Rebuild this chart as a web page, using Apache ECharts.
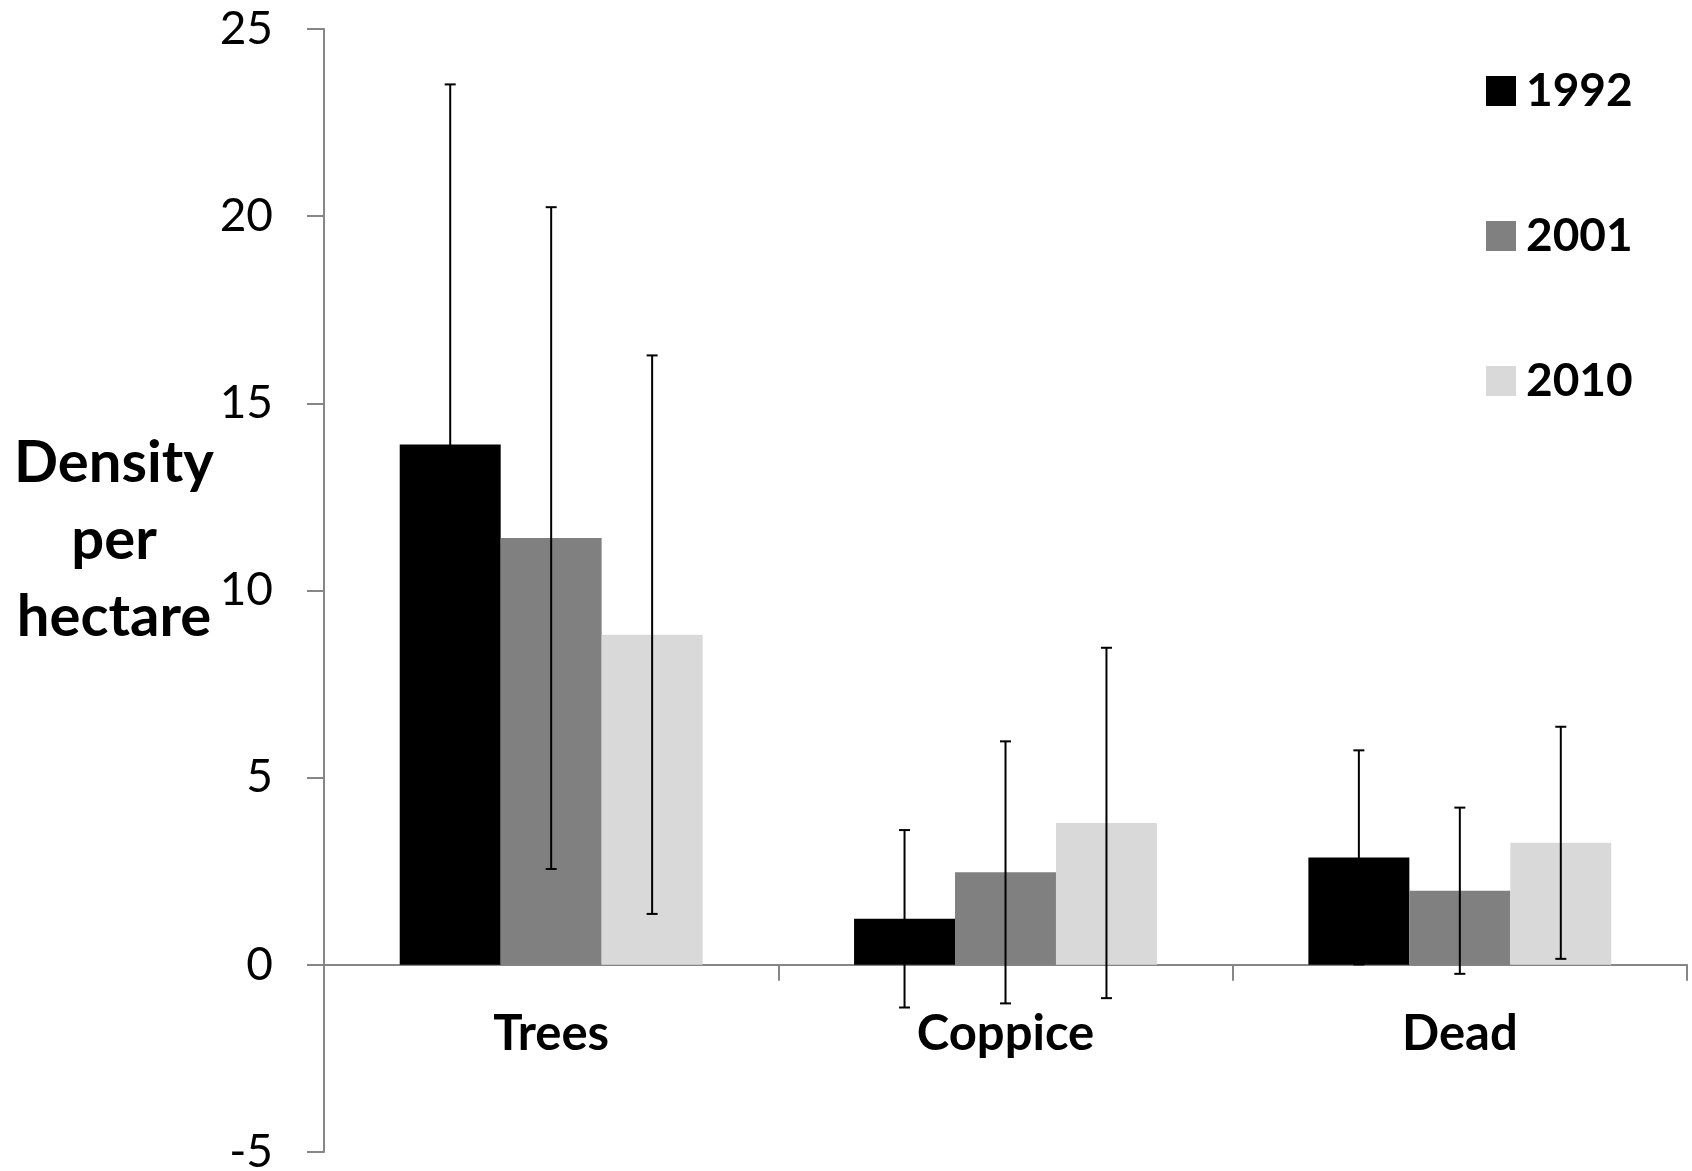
<!DOCTYPE html>
<html>
<head>
<meta charset="utf-8">
<script src="https://cdn.jsdelivr.net/npm/echarts@6/dist/echarts.min.js"></script>
<style>
  html, body { margin: 0; padding: 0; background: #fff; }
  #chart { width: 1692px; height: 1171px; }
</style>
</head>
<body>
<div id="chart"></div>
<script>
// Stem densities per hectare (mean ± SD) by survey year
const categories = ['Trees', 'Coppice', 'Dead'];
const years = ['1992', '2001', '2010'];
const mean1992 = [13.9, 1.23, 2.87];
const mean2001 = [11.4, 2.47, 1.98];
const mean2010 = [8.82, 3.79, 3.26];
const sd1992 = [9.62, 2.37, 2.86];
const sd2001 = [8.84, 3.5, 2.22];
const sd2010 = [7.46, 4.68, 3.1];
const yMin = -5, yMax = 25, yStep = 5;

const means = [mean1992, mean2001, mean2010];
const sds = [sd1992, sd2001, sd2010];
const colors = ['#000000', '#808080', '#d9d9d9'];
const AXIS = '#868686';
const FONT = 'Lato';
const CAT_GAP = 1 / 3;

const W = 1692, H = 1171;
const GRID = { left: 324, right: 5, top: 29, bottom: 19 };
// the category axis sits on the zero line of the value axis
const gridH = H - GRID.top - GRID.bottom;
const zeroOffset = -(0 - yMin) / (yMax - yMin) * gridH;

// error bar items: [category, mean, sd, year index]
const errData = [];
means.forEach((arr, k) => arr.forEach((m, c) => errData.push([c, m, sds[k][c], k])));

function renderError(params, api) {
  const c = api.value(0), m = api.value(1), s = api.value(2), k = api.value(3);
  const band = api.size([1, 0])[0];
  const bw = band * (1 - CAT_GAP) / years.length;
  const x = api.coord([c, 0])[0] + (k - (years.length - 1) / 2) * bw;
  const yTop = api.coord([c, m + s])[1];
  const yBot = api.coord([c, m - s])[1];
  const half = 5.5;
  const style = { stroke: '#000', lineWidth: 2 };
  return {
    type: 'group',
    children: [
      { type: 'line', shape: { x1: x, y1: yTop, x2: x, y2: yBot }, style },
      { type: 'line', shape: { x1: x - half, y1: yTop, x2: x + half, y2: yTop }, style },
      { type: 'line', shape: { x1: x - half, y1: yBot, x2: x + half, y2: yBot }, style }
    ]
  };
}

const chart = echarts.init(document.getElementById('chart'), null, { renderer: 'canvas' });
chart.setOption({
  backgroundColor: '#fff',
  animation: false,
  grid: Object.assign({ outerBoundsMode: 'none' }, GRID),
  legend: {
    data: years,
    orient: 'vertical',
    left: 1481,
    top: 61,
    icon: 'rect',
    itemWidth: 30,
    itemHeight: 30,
    itemGap: 95,
    selectedMode: false,
    textStyle: { fontFamily: FONT, fontWeight: 'bold', fontSize: 46, color: '#000', lineHeight: 50, padding: [0, 0, 0, 5] }
  },
  xAxis: {
    type: 'category',
    data: categories,
    position: 'bottom',
    offset: zeroOffset,
    axisLine: { onZero: false, lineStyle: { color: AXIS, width: 2 } },
    axisTick: { show: true, length: 16, lineStyle: { color: AXIS, width: 2 } },
    axisLabel: { show: true, interval: 0, fontFamily: FONT, fontWeight: 'bold', fontSize: 49, lineHeight: 49, color: '#000', margin: 45 },
    splitLine: { show: false }
  },
  yAxis: {
    type: 'value',
    min: yMin,
    max: yMax,
    interval: yStep,
    axisLine: { show: true, lineStyle: { color: AXIS, width: 2 } },
    axisTick: { show: true, length: 17, lineStyle: { color: AXIS, width: 2 } },
    axisLabel: { fontFamily: FONT, fontSize: 46, color: '#000', margin: 51 },
    splitLine: { show: false }
  },
  graphic: [{
    type: 'text',
    x: 114,
    y: 540,
    style: {
      text: 'Density\nper\nhectare',
      fontFamily: FONT,
      fontWeight: 'bold',
      fontSize: 58,
      lineHeight: 77,
      fill: '#000',
      align: 'center',
      verticalAlign: 'middle'
    }
  }],
  series: years.map((y, k) => ({
    name: y,
    type: 'bar',
    data: means[k],
    barGap: '0%',
    barCategoryGap: (CAT_GAP * 100) + '%',
    itemStyle: { color: colors[k] },
    z: 2
  })).concat([{
    type: 'custom',
    renderItem: renderError,
    data: errData,
    encode: { x: 0, y: 1 },
    z: 5,
    silent: true
  }])
});
</script>
</body>
</html>
